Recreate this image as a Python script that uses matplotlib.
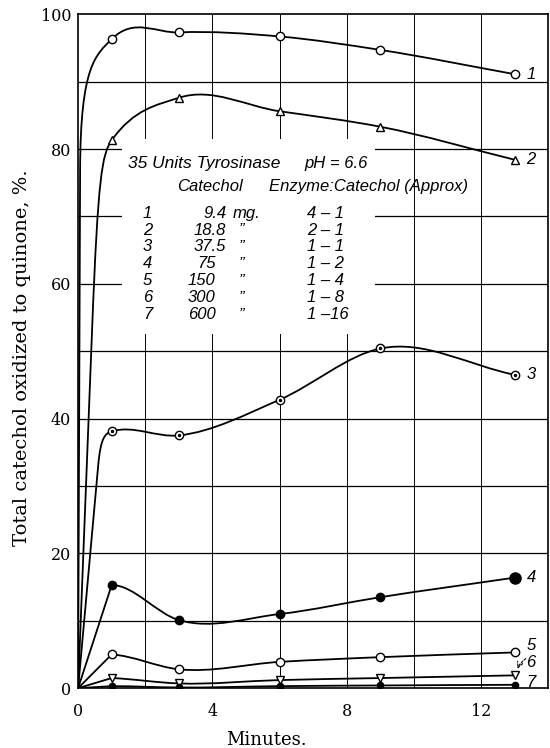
#catechol oxidation by tyrosinase - recreated figure

import matplotlib
matplotlib.use("Agg")
import matplotlib.pyplot as plt
from matplotlib.path import Path
from matplotlib.patches import PathPatch, Rectangle

minutes = [1, 3, 6, 9, 13]
curve1 = [96.3, 97.3, 96.7, 94.7, 91.1]
curve2 = [81.3, 87.6, 85.6, 83.3, 78.4]
curve3 = [38.1, 37.5, 42.8, 50.4, 46.5]
curve4 = [15.3, 10.1, 11.0, 13.5, 16.4]
curve5 = [5.0, 2.8, 3.9, 4.6, 5.3]
curve6 = [1.5, 0.7, 1.2, 1.5, 1.9]
curve7 = [0.3, 0.1, 0.3, 0.4, 0.5]

curve_names = ["1", "2", "3", "4", "5", "6", "7"]
catechol_mg = ["9.4", "18.8", "37.5", "75", "150", "300", "600"]
mg_unit = ["mg.", "\u201d", "\u201d", "\u201d", "\u201d", "\u201d", "\u201d"]
ratios = ["4 \u2013 1", "2 \u2013 1", "1 \u2013 1", "1 \u2013 2", "1 \u2013 4", "1 \u2013 8", "1 \u201316"]

xticks = [0, 4, 8, 12]
yticks = [0, 20, 40, 60, 80, 100]

SERIF = "DejaVu Serif"
ITAL = dict(family="Liberation Sans", style="italic")


def pen_curve(xs, ys, lead, knee):
    # smooth curve through the points, starting from the origin
    x = [0.0] + list(xs)
    y = [0.0] + list(ys)
    n = len(x)
    slope = [0.0] * n
    slope[1] = lead
    for i in range(2, n - 1):
        hl, hr = x[i] - x[i - 1], x[i + 1] - x[i]
        sl, sr = (y[i] - y[i - 1]) / hl, (y[i + 1] - y[i]) / hr
        slope[i] = (hr * sl + hl * sr) / (hl + hr)
    slope[-1] = (y[-1] - y[-2]) / (x[-1] - x[-2])
    verts = [(0.0, 0.0)]
    codes = [Path.MOVETO]
    if knee is None:
        verts.append((x[1], y[1]))
        codes.append(Path.LINETO)
    else:
        kx, kf = knee
        ky = kf * y[1]
        h = x[1] - kx
        cy = ky + (y[1] - ky) * 0.8
        verts += [(kx, ky), (kx * cy / ky, cy),
                  (x[1] - h / 2, y[1] - lead * h / 2), (x[1], y[1])]
        codes += [Path.LINETO, Path.CURVE4, Path.CURVE4, Path.CURVE4]
    for i in range(1, n - 1):
        h = x[i + 1] - x[i]
        verts += [(x[i] + h / 3, y[i] + slope[i] * h / 3),
                  (x[i + 1] - h / 3, y[i + 1] - slope[i + 1] * h / 3),
                  (x[i + 1], y[i + 1])]
        codes += [Path.CURVE4] * 3
    return Path(verts, codes)


fig = plt.figure(figsize=(5.5, 7.48), dpi=100)
ax = fig.add_axes([0.142, 0.080, 0.855, 0.901])
ax.set_xlim(0, 14)
ax.set_ylim(0, 100)

# grid
for gx in range(2, 14, 2):
    ax.axvline(gx, color="black", lw=0.7, zorder=0.5)
for gy in range(10, 100, 10):
    ax.axhline(gy, color="black", lw=0.9, zorder=0.5)

# blank area behind the table
ax.add_patch(Rectangle((1.3, 52.6), 7.55, 28.9, facecolor="white", edgecolor="none", zorder=1))

curves = [curve1, curve2, curve3, curve4, curve5, curve6, curve7]
leads = [5.0, 7.0, 1.5, 0.0, -0.3, -0.2, 0.0]
knees = [(0.06, 0.8), (0.42, 0.66), (0.6, 0.87), None, None, None, None]
for c, lead, knee in zip(curves, leads, knees):
    ax.add_patch(PathPatch(pen_curve(minutes, c, lead, knee), facecolor="none",
                           edgecolor="black", lw=1.3, zorder=2))

mk = dict(linestyle="none", color="black", zorder=3, markeredgewidth=1.0)
ax.plot(minutes, curve1, marker="o", ms=6, markerfacecolor="white", **mk)
ax.plot(minutes, curve2, marker="^", ms=6, markerfacecolor="white", **mk)
ax.plot(minutes, curve3, marker="o", ms=6, markerfacecolor="white", **mk)
ax.plot(minutes, curve3, marker="o", ms=1.5, **mk)
ax.plot(minutes[:-1], curve4[:-1], marker="o", ms=6, **mk)
ax.plot(minutes[-1:], curve4[-1:], marker="o", ms=8, **mk)
ax.plot(minutes, curve5, marker="o", ms=6, markerfacecolor="white", **mk)
ax.plot(minutes, curve6, marker="v", ms=6, markerfacecolor="white", **mk)
ax.plot(minutes, curve7, marker="o", ms=4.5, **mk)

# curve numbers at the right end
for name, c in zip(curve_names, curves):
    dy = {"5": 1.0, "6": 1.9, "7": 0.3}.get(name, 0.0)
    ax.text(13.35, c[-1] + dy, name, fontsize=12, va="center", ha="left", zorder=4, **ITAL)
ax.annotate("", xy=(13.05, 2.5), xytext=(13.4, 4.6),
            arrowprops=dict(arrowstyle="->", lw=0.8, ls=(0, (2, 1.5)),
                            connectionstyle="arc3,rad=0.2"), zorder=4)

# table of conditions
ax.text(1.48, 77.8, "35 Units Tyrosinase", fontsize=12.5, va="center", **ITAL)
ax.text(6.73, 77.8, "pH = 6.6", fontsize=12, va="center", **ITAL)
ax.text(2.96, 74.5, "Catechol", fontsize=12, va="center", **ITAL)
ax.text(5.69, 74.5, "Enzyme:Catechol (Approx)", fontsize=12, va="center", **ITAL)
for i in range(len(curve_names)):
    ry = 70.5 - 2.52 * i
    ax.text(2.07, ry, curve_names[i], fontsize=12, va="center", ha="center", **ITAL)
    mx = 4.41 if "." in catechol_mg[i] else 4.09
    ax.text(mx, ry, catechol_mg[i], fontsize=12, va="center", ha="right", **ITAL)
    ux = 4.59 if i == 0 else 4.8
    ax.text(ux, ry, mg_unit[i], fontsize=12, va="center", ha="left", **ITAL)
    ax.text(6.81, ry, ratios[i], fontsize=12, va="center", ha="left", **ITAL)

ax.set_xticks(xticks)
ax.set_yticks(yticks)
ax.tick_params(length=0, labelsize=11.5)
ax.tick_params(axis="y", pad=5)
ax.tick_params(axis="x", pad=11)
for lab in ax.get_xticklabels() + ax.get_yticklabels():
    lab.set_family(SERIF)
for s in ax.spines.values():
    s.set_linewidth(1.2)

ax.set_xlabel("Minutes.", family=SERIF, fontsize=13)
ax.xaxis.set_label_coords(0.40, -0.064)
ax.set_ylabel("Total catechol oxidized to quinone, %.", family=SERIF, fontsize=14)
ax.yaxis.set_label_coords(-0.10, 0.49)

fig.savefig("out.png", dpi=100)
